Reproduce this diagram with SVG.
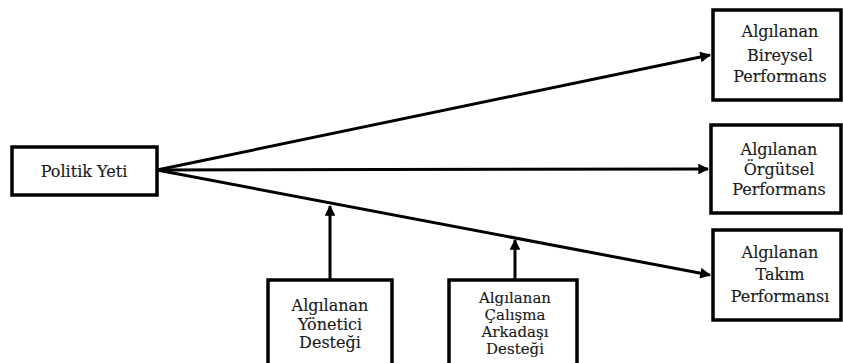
<svg xmlns="http://www.w3.org/2000/svg" width="843" height="363" viewBox="0 0 843 363">
<style>
.box{fill:#fff;stroke:#000;stroke-width:3.5}
.t{font-family:"DejaVu Serif","Liberation Serif",serif;font-size:16px;fill:#1a1a1a;text-anchor:middle;stroke:#1a1a1a;stroke-width:0.15}
.s{font-size:15px}
.ln{stroke:#000;stroke-width:3;fill:none}
</style>
<defs>
<marker id="ah" viewBox="0 0 10 10" refX="9" refY="5" markerWidth="4" markerHeight="3.6" orient="auto" markerUnits="strokeWidth">
<path d="M0,0 L10,5 L0,10 z" fill="#000"/>
</marker>
</defs>
<rect width="843" height="363" fill="#fff"/>
<g id="connectors">
<line class="ln" x1="157" y1="170" x2="710" y2="55" marker-end="url(#ah)"/>
<line class="ln" x1="157" y1="170" x2="708" y2="169" marker-end="url(#ah)"/>
<line class="ln" x1="157" y1="170" x2="710" y2="275" marker-end="url(#ah)"/>
<line class="ln" x1="330" y1="280" x2="330" y2="206" marker-end="url(#ah)"/>
<line class="ln" x1="515" y1="280" x2="515" y2="240" marker-end="url(#ah)"/>
</g>
<g id="politik">
<rect class="box" x="12" y="147" width="145" height="48"/>
<text class="t" x="84" y="177">Politik Yeti</text>
</g>
<g id="bireysel">
<rect class="box" x="713" y="10" width="128" height="90"/>
<text class="t" x="780" y="37">Algılanan</text>
<text class="t" x="780" y="61">Bireysel</text>
<text class="t" x="780" y="82">Performans</text>
</g>
<g id="orgutsel">
<rect class="box" x="711" y="125" width="130" height="88"/>
<text class="t" x="779" y="155">Algılanan</text>
<text class="t" x="779" y="175">Örgütsel</text>
<text class="t" x="779" y="195">Performans</text>
</g>
<g id="takim">
<rect class="box" x="713" y="230" width="128" height="90"/>
<text class="t" x="780" y="258">Algılanan</text>
<text class="t" x="780" y="280">Takım</text>
<text class="t" x="780" y="302">Performansı</text>
</g>
<g id="yonetici">
<rect class="box" x="268" y="280" width="124" height="95"/>
<text class="t" x="330" y="311">Algılanan</text>
<text class="t" x="330" y="330">Yönetici</text>
<text class="t" x="330" y="348">Desteği</text>
</g>
<g id="calisma">
<rect class="box" x="449" y="280" width="128" height="95"/>
<text class="t s" x="515" y="303">Algılanan</text>
<text class="t s" x="515" y="320">Çalışma</text>
<text class="t s" x="515" y="337">Arkadaşı</text>
<text class="t s" x="515" y="354">Desteği</text>
</g>
</svg>
